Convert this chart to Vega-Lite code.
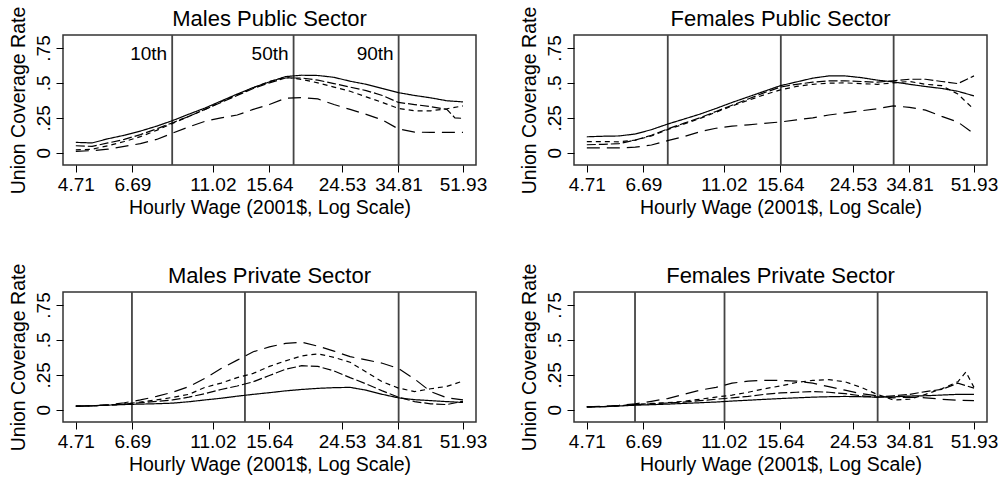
{
  "$schema": "https://vega.github.io/schema/vega-lite/v6.json",
  "padding": {"left": 7, "top": 5, "right": 0, "bottom": 0},
  "background": "white",
  "columns": 2,
  "spacing": {"column": 30, "row": 44},
  "config": {
    "font": "Liberation Sans",
    "view": {"stroke": "#333333", "strokeWidth": 1.5},
    "title": {"font": "Liberation Sans", "fontSize": 22, "fontWeight": "normal", "color": "black", "anchor": "middle", "frame": "group", "baseline": "alphabetic", "offset": -25},
    "axis": {"domain": false, "grid": false, "tickColor": "black", "tickSize": 7, "tickWidth": 1, "labelFont": "Liberation Sans", "labelFontSize": 19, "labelColor": "black", "titleFont": "Liberation Sans", "titleFontSize": 19.5, "titleFontWeight": "normal", "titleColor": "black", "labelOverlap": false, "labelFlush": false}
  },
  "datasets": {
    "curves": [
      {"panel":"MPu","series":"D","wage":4.71,"rate":0.074},{"panel":"MPu","series":"D","wage":5.21,"rate":0.07},{"panel":"MPu","series":"D","wage":5.75,"rate":0.1},{"panel":"MPu","series":"D","wage":6.36,"rate":0.125},{"panel":"MPu","series":"D","wage":7.03,"rate":0.155},{"panel":"MPu","series":"D","wage":7.77,"rate":0.19},{"panel":"MPu","series":"D","wage":8.58,"rate":0.23},{"panel":"MPu","series":"D","wage":9.49,"rate":0.276},{"panel":"MPu","series":"D","wage":10.49,"rate":0.32},{"panel":"MPu","series":"D","wage":11.59,"rate":0.37},{"panel":"MPu","series":"D","wage":12.81,"rate":0.42},{"panel":"MPu","series":"D","wage":14.15,"rate":0.467},{"panel":"MPu","series":"D","wage":15.64,"rate":0.507},{"panel":"MPu","series":"D","wage":17.29,"rate":0.545},{"panel":"MPu","series":"D","wage":19.11,"rate":0.555},{"panel":"MPu","series":"D","wage":21.12,"rate":0.553},{"panel":"MPu","series":"D","wage":23.34,"rate":0.54},{"panel":"MPu","series":"D","wage":25.79,"rate":0.512},{"panel":"MPu","series":"D","wage":28.5,"rate":0.49},{"panel":"MPu","series":"D","wage":31.5,"rate":0.46},{"panel":"MPu","series":"D","wage":34.81,"rate":0.43},{"panel":"MPu","series":"D","wage":38.47,"rate":0.41},{"panel":"MPu","series":"D","wage":42.52,"rate":0.393},{"panel":"MPu","series":"D","wage":46.99,"rate":0.372},{"panel":"MPu","series":"D","wage":51.93,"rate":0.364},
      {"panel":"MPu","series":"C","wage":4.71,"rate":0.05},{"panel":"MPu","series":"C","wage":5.21,"rate":0.045},{"panel":"MPu","series":"C","wage":5.75,"rate":0.07},{"panel":"MPu","series":"C","wage":6.36,"rate":0.095},{"panel":"MPu","series":"C","wage":7.03,"rate":0.13},{"panel":"MPu","series":"C","wage":7.77,"rate":0.17},{"panel":"MPu","series":"C","wage":8.58,"rate":0.215},{"panel":"MPu","series":"C","wage":9.49,"rate":0.26},{"panel":"MPu","series":"C","wage":10.49,"rate":0.31},{"panel":"MPu","series":"C","wage":11.59,"rate":0.36},{"panel":"MPu","series":"C","wage":12.81,"rate":0.41},{"panel":"MPu","series":"C","wage":14.15,"rate":0.46},{"panel":"MPu","series":"C","wage":15.64,"rate":0.5},{"panel":"MPu","series":"C","wage":17.29,"rate":0.535},{"panel":"MPu","series":"C","wage":19.11,"rate":0.535},{"panel":"MPu","series":"C","wage":21.12,"rate":0.52},{"panel":"MPu","series":"C","wage":23.34,"rate":0.495},{"panel":"MPu","series":"C","wage":25.79,"rate":0.47},{"panel":"MPu","series":"C","wage":28.5,"rate":0.445},{"panel":"MPu","series":"C","wage":31.5,"rate":0.41},{"panel":"MPu","series":"C","wage":34.81,"rate":0.36},{"panel":"MPu","series":"C","wage":38.47,"rate":0.345},{"panel":"MPu","series":"C","wage":42.52,"rate":0.33},{"panel":"MPu","series":"C","wage":46.99,"rate":0.31},{"panel":"MPu","series":"C","wage":49.4,"rate":0.25},{"panel":"MPu","series":"C","wage":51.93,"rate":0.246},
      {"panel":"MPu","series":"B","wage":4.71,"rate":0.02},{"panel":"MPu","series":"B","wage":5.21,"rate":0.025},{"panel":"MPu","series":"B","wage":5.75,"rate":0.05},{"panel":"MPu","series":"B","wage":6.36,"rate":0.08},{"panel":"MPu","series":"B","wage":7.03,"rate":0.115},{"panel":"MPu","series":"B","wage":7.77,"rate":0.16},{"panel":"MPu","series":"B","wage":8.58,"rate":0.21},{"panel":"MPu","series":"B","wage":9.49,"rate":0.26},{"panel":"MPu","series":"B","wage":10.49,"rate":0.31},{"panel":"MPu","series":"B","wage":11.59,"rate":0.365},{"panel":"MPu","series":"B","wage":12.81,"rate":0.415},{"panel":"MPu","series":"B","wage":14.15,"rate":0.465},{"panel":"MPu","series":"B","wage":15.64,"rate":0.51},{"panel":"MPu","series":"B","wage":17.29,"rate":0.54},{"panel":"MPu","series":"B","wage":19.11,"rate":0.525},{"panel":"MPu","series":"B","wage":21.12,"rate":0.5},{"panel":"MPu","series":"B","wage":23.34,"rate":0.47},{"panel":"MPu","series":"B","wage":25.79,"rate":0.44},{"panel":"MPu","series":"B","wage":28.5,"rate":0.4},{"panel":"MPu","series":"B","wage":31.5,"rate":0.36},{"panel":"MPu","series":"B","wage":34.81,"rate":0.317},{"panel":"MPu","series":"B","wage":38.47,"rate":0.3},{"panel":"MPu","series":"B","wage":42.52,"rate":0.3},{"panel":"MPu","series":"B","wage":46.99,"rate":0.315},{"panel":"MPu","series":"B","wage":51.93,"rate":0.335},
      {"panel":"MPu","series":"A","wage":4.71,"rate":0.01},{"panel":"MPu","series":"A","wage":5.21,"rate":0.015},{"panel":"MPu","series":"A","wage":5.75,"rate":0.025},{"panel":"MPu","series":"A","wage":6.36,"rate":0.045},{"panel":"MPu","series":"A","wage":7.03,"rate":0.065},{"panel":"MPu","series":"A","wage":7.77,"rate":0.095},{"panel":"MPu","series":"A","wage":8.58,"rate":0.14},{"panel":"MPu","series":"A","wage":9.49,"rate":0.185},{"panel":"MPu","series":"A","wage":10.49,"rate":0.225},{"panel":"MPu","series":"A","wage":11.59,"rate":0.25},{"panel":"MPu","series":"A","wage":12.81,"rate":0.27},{"panel":"MPu","series":"A","wage":14.15,"rate":0.31},{"panel":"MPu","series":"A","wage":15.64,"rate":0.345},{"panel":"MPu","series":"A","wage":17.29,"rate":0.39},{"panel":"MPu","series":"A","wage":19.11,"rate":0.395},{"panel":"MPu","series":"A","wage":21.12,"rate":0.385},{"panel":"MPu","series":"A","wage":23.34,"rate":0.345},{"panel":"MPu","series":"A","wage":25.79,"rate":0.31},{"panel":"MPu","series":"A","wage":28.5,"rate":0.275},{"panel":"MPu","series":"A","wage":31.5,"rate":0.235},{"panel":"MPu","series":"A","wage":34.81,"rate":0.17},{"panel":"MPu","series":"A","wage":38.47,"rate":0.148},{"panel":"MPu","series":"A","wage":42.52,"rate":0.145},{"panel":"MPu","series":"A","wage":46.99,"rate":0.146},{"panel":"MPu","series":"A","wage":51.93,"rate":0.146},

      {"panel":"FPu","series":"D","wage":4.71,"rate":0.114},{"panel":"FPu","series":"D","wage":5.21,"rate":0.118},{"panel":"FPu","series":"D","wage":5.75,"rate":0.12},{"panel":"FPu","series":"D","wage":6.36,"rate":0.134},{"panel":"FPu","series":"D","wage":7.03,"rate":0.165},{"panel":"FPu","series":"D","wage":7.77,"rate":0.205},{"panel":"FPu","series":"D","wage":8.58,"rate":0.24},{"panel":"FPu","series":"D","wage":9.49,"rate":0.276},{"panel":"FPu","series":"D","wage":10.49,"rate":0.317},{"panel":"FPu","series":"D","wage":11.59,"rate":0.36},{"panel":"FPu","series":"D","wage":12.81,"rate":0.4},{"panel":"FPu","series":"D","wage":14.15,"rate":0.44},{"panel":"FPu","series":"D","wage":15.64,"rate":0.48},{"panel":"FPu","series":"D","wage":17.29,"rate":0.507},{"panel":"FPu","series":"D","wage":19.11,"rate":0.534},{"panel":"FPu","series":"D","wage":21.12,"rate":0.55},{"panel":"FPu","series":"D","wage":23.34,"rate":0.55},{"panel":"FPu","series":"D","wage":25.79,"rate":0.538},{"panel":"FPu","series":"D","wage":28.5,"rate":0.52},{"panel":"FPu","series":"D","wage":31.5,"rate":0.507},{"panel":"FPu","series":"D","wage":34.81,"rate":0.49},{"panel":"FPu","series":"D","wage":38.47,"rate":0.474},{"panel":"FPu","series":"D","wage":42.52,"rate":0.46},{"panel":"FPu","series":"D","wage":46.99,"rate":0.44},{"panel":"FPu","series":"D","wage":51.93,"rate":0.407},
      {"panel":"FPu","series":"C","wage":4.71,"rate":0.057},{"panel":"FPu","series":"C","wage":5.21,"rate":0.06},{"panel":"FPu","series":"C","wage":5.75,"rate":0.065},{"panel":"FPu","series":"C","wage":6.36,"rate":0.09},{"panel":"FPu","series":"C","wage":7.03,"rate":0.125},{"panel":"FPu","series":"C","wage":7.77,"rate":0.17},{"panel":"FPu","series":"C","wage":8.58,"rate":0.21},{"panel":"FPu","series":"C","wage":9.49,"rate":0.25},{"panel":"FPu","series":"C","wage":10.49,"rate":0.295},{"panel":"FPu","series":"C","wage":11.59,"rate":0.34},{"panel":"FPu","series":"C","wage":12.81,"rate":0.385},{"panel":"FPu","series":"C","wage":14.15,"rate":0.43},{"panel":"FPu","series":"C","wage":15.64,"rate":0.47},{"panel":"FPu","series":"C","wage":17.29,"rate":0.49},{"panel":"FPu","series":"C","wage":19.11,"rate":0.505},{"panel":"FPu","series":"C","wage":21.12,"rate":0.514},{"panel":"FPu","series":"C","wage":23.34,"rate":0.515},{"panel":"FPu","series":"C","wage":25.79,"rate":0.51},{"panel":"FPu","series":"C","wage":28.5,"rate":0.505},{"panel":"FPu","series":"C","wage":31.5,"rate":0.515},{"panel":"FPu","series":"C","wage":34.81,"rate":0.526},{"panel":"FPu","series":"C","wage":38.47,"rate":0.526},{"panel":"FPu","series":"C","wage":42.52,"rate":0.51},{"panel":"FPu","series":"C","wage":46.99,"rate":0.495},{"panel":"FPu","series":"C","wage":51.93,"rate":0.55},
      {"panel":"FPu","series":"B","wage":4.71,"rate":0.08},{"panel":"FPu","series":"B","wage":5.21,"rate":0.08},{"panel":"FPu","series":"B","wage":5.75,"rate":0.078},{"panel":"FPu","series":"B","wage":6.36,"rate":0.09},{"panel":"FPu","series":"B","wage":7.03,"rate":0.12},{"panel":"FPu","series":"B","wage":7.77,"rate":0.165},{"panel":"FPu","series":"B","wage":8.58,"rate":0.205},{"panel":"FPu","series":"B","wage":9.49,"rate":0.245},{"panel":"FPu","series":"B","wage":10.49,"rate":0.29},{"panel":"FPu","series":"B","wage":11.59,"rate":0.335},{"panel":"FPu","series":"B","wage":12.81,"rate":0.375},{"panel":"FPu","series":"B","wage":14.15,"rate":0.415},{"panel":"FPu","series":"B","wage":15.64,"rate":0.45},{"panel":"FPu","series":"B","wage":17.29,"rate":0.475},{"panel":"FPu","series":"B","wage":19.11,"rate":0.49},{"panel":"FPu","series":"B","wage":21.12,"rate":0.498},{"panel":"FPu","series":"B","wage":23.34,"rate":0.5},{"panel":"FPu","series":"B","wage":25.79,"rate":0.495},{"panel":"FPu","series":"B","wage":28.5,"rate":0.49},{"panel":"FPu","series":"B","wage":31.5,"rate":0.5},{"panel":"FPu","series":"B","wage":34.81,"rate":0.51},{"panel":"FPu","series":"B","wage":38.47,"rate":0.49},{"panel":"FPu","series":"B","wage":42.52,"rate":0.48},{"panel":"FPu","series":"B","wage":46.99,"rate":0.42},{"panel":"FPu","series":"B","wage":51.93,"rate":0.31},
      {"panel":"FPu","series":"A","wage":4.71,"rate":0.035},{"panel":"FPu","series":"A","wage":5.21,"rate":0.034},{"panel":"FPu","series":"A","wage":5.75,"rate":0.034},{"panel":"FPu","series":"A","wage":6.36,"rate":0.04},{"panel":"FPu","series":"A","wage":7.03,"rate":0.055},{"panel":"FPu","series":"A","wage":7.77,"rate":0.086},{"panel":"FPu","series":"A","wage":8.58,"rate":0.115},{"panel":"FPu","series":"A","wage":9.49,"rate":0.15},{"panel":"FPu","series":"A","wage":10.49,"rate":0.175},{"panel":"FPu","series":"A","wage":11.59,"rate":0.19},{"panel":"FPu","series":"A","wage":12.81,"rate":0.2},{"panel":"FPu","series":"A","wage":14.15,"rate":0.21},{"panel":"FPu","series":"A","wage":15.64,"rate":0.22},{"panel":"FPu","series":"A","wage":17.29,"rate":0.235},{"panel":"FPu","series":"A","wage":19.11,"rate":0.25},{"panel":"FPu","series":"A","wage":21.12,"rate":0.27},{"panel":"FPu","series":"A","wage":23.34,"rate":0.285},{"panel":"FPu","series":"A","wage":25.79,"rate":0.3},{"panel":"FPu","series":"A","wage":28.5,"rate":0.315},{"panel":"FPu","series":"A","wage":31.5,"rate":0.335},{"panel":"FPu","series":"A","wage":34.81,"rate":0.325},{"panel":"FPu","series":"A","wage":38.47,"rate":0.305},{"panel":"FPu","series":"A","wage":42.52,"rate":0.26},{"panel":"FPu","series":"A","wage":46.99,"rate":0.22},{"panel":"FPu","series":"A","wage":51.93,"rate":0.135},

      {"panel":"MPr","series":"D","wage":4.71,"rate":0.025},{"panel":"MPr","series":"D","wage":5.21,"rate":0.028},{"panel":"MPr","series":"D","wage":5.75,"rate":0.033},{"panel":"MPr","series":"D","wage":6.36,"rate":0.037},{"panel":"MPr","series":"D","wage":7.03,"rate":0.04},{"panel":"MPr","series":"D","wage":7.77,"rate":0.043},{"panel":"MPr","series":"D","wage":8.58,"rate":0.047},{"panel":"MPr","series":"D","wage":9.49,"rate":0.057},{"panel":"MPr","series":"D","wage":10.49,"rate":0.07},{"panel":"MPr","series":"D","wage":11.59,"rate":0.082},{"panel":"MPr","series":"D","wage":12.81,"rate":0.097},{"panel":"MPr","series":"D","wage":14.15,"rate":0.11},{"panel":"MPr","series":"D","wage":15.64,"rate":0.122},{"panel":"MPr","series":"D","wage":17.29,"rate":0.135},{"panel":"MPr","series":"D","wage":19.11,"rate":0.145},{"panel":"MPr","series":"D","wage":21.12,"rate":0.153},{"panel":"MPr","series":"D","wage":23.34,"rate":0.158},{"panel":"MPr","series":"D","wage":25.79,"rate":0.16},{"panel":"MPr","series":"D","wage":28.5,"rate":0.14},{"panel":"MPr","series":"D","wage":31.5,"rate":0.11},{"panel":"MPr","series":"D","wage":34.81,"rate":0.085},{"panel":"MPr","series":"D","wage":38.47,"rate":0.072},{"panel":"MPr","series":"D","wage":42.52,"rate":0.065},{"panel":"MPr","series":"D","wage":46.99,"rate":0.058},{"panel":"MPr","series":"D","wage":51.93,"rate":0.052},
      {"panel":"MPr","series":"C","wage":4.71,"rate":0.025},{"panel":"MPr","series":"C","wage":5.21,"rate":0.028},{"panel":"MPr","series":"C","wage":5.75,"rate":0.033},{"panel":"MPr","series":"C","wage":6.36,"rate":0.04},{"panel":"MPr","series":"C","wage":7.03,"rate":0.05},{"panel":"MPr","series":"C","wage":7.77,"rate":0.06},{"panel":"MPr","series":"C","wage":8.58,"rate":0.07},{"panel":"MPr","series":"C","wage":9.49,"rate":0.09},{"panel":"MPr","series":"C","wage":10.49,"rate":0.115},{"panel":"MPr","series":"C","wage":11.59,"rate":0.145},{"panel":"MPr","series":"C","wage":12.81,"rate":0.17},{"panel":"MPr","series":"C","wage":14.15,"rate":0.2},{"panel":"MPr","series":"C","wage":15.64,"rate":0.245},{"panel":"MPr","series":"C","wage":17.29,"rate":0.29},{"panel":"MPr","series":"C","wage":19.11,"rate":0.315},{"panel":"MPr","series":"C","wage":21.12,"rate":0.31},{"panel":"MPr","series":"C","wage":23.34,"rate":0.278},{"panel":"MPr","series":"C","wage":25.79,"rate":0.23},{"panel":"MPr","series":"C","wage":28.5,"rate":0.185},{"panel":"MPr","series":"C","wage":31.5,"rate":0.135},{"panel":"MPr","series":"C","wage":34.81,"rate":0.09},{"panel":"MPr","series":"C","wage":38.47,"rate":0.058},{"panel":"MPr","series":"C","wage":42.52,"rate":0.042},{"panel":"MPr","series":"C","wage":46.99,"rate":0.037},{"panel":"MPr","series":"C","wage":51.93,"rate":0.06},
      {"panel":"MPr","series":"B","wage":4.71,"rate":0.025},{"panel":"MPr","series":"B","wage":5.21,"rate":0.028},{"panel":"MPr","series":"B","wage":5.75,"rate":0.033},{"panel":"MPr","series":"B","wage":6.36,"rate":0.04},{"panel":"MPr","series":"B","wage":7.03,"rate":0.055},{"panel":"MPr","series":"B","wage":7.77,"rate":0.07},{"panel":"MPr","series":"B","wage":8.58,"rate":0.088},{"panel":"MPr","series":"B","wage":9.49,"rate":0.11},{"panel":"MPr","series":"B","wage":10.49,"rate":0.16},{"panel":"MPr","series":"B","wage":11.59,"rate":0.19},{"panel":"MPr","series":"B","wage":12.81,"rate":0.23},{"panel":"MPr","series":"B","wage":14.15,"rate":0.26},{"panel":"MPr","series":"B","wage":15.64,"rate":0.31},{"panel":"MPr","series":"B","wage":17.29,"rate":0.35},{"panel":"MPr","series":"B","wage":19.11,"rate":0.385},{"panel":"MPr","series":"B","wage":21.12,"rate":0.4},{"panel":"MPr","series":"B","wage":23.34,"rate":0.375},{"panel":"MPr","series":"B","wage":25.79,"rate":0.34},{"panel":"MPr","series":"B","wage":28.5,"rate":0.27},{"panel":"MPr","series":"B","wage":31.5,"rate":0.2},{"panel":"MPr","series":"B","wage":34.81,"rate":0.155},{"panel":"MPr","series":"B","wage":38.47,"rate":0.13},{"panel":"MPr","series":"B","wage":42.52,"rate":0.15},{"panel":"MPr","series":"B","wage":46.99,"rate":0.167},{"panel":"MPr","series":"B","wage":51.93,"rate":0.205},
      {"panel":"MPr","series":"A","wage":4.71,"rate":0.025},{"panel":"MPr","series":"A","wage":5.21,"rate":0.028},{"panel":"MPr","series":"A","wage":5.75,"rate":0.035},{"panel":"MPr","series":"A","wage":6.36,"rate":0.05},{"panel":"MPr","series":"A","wage":7.03,"rate":0.07},{"panel":"MPr","series":"A","wage":7.77,"rate":0.095},{"panel":"MPr","series":"A","wage":8.58,"rate":0.125},{"panel":"MPr","series":"A","wage":9.49,"rate":0.165},{"panel":"MPr","series":"A","wage":10.49,"rate":0.225},{"panel":"MPr","series":"A","wage":11.59,"rate":0.295},{"panel":"MPr","series":"A","wage":12.81,"rate":0.355},{"panel":"MPr","series":"A","wage":14.15,"rate":0.415},{"panel":"MPr","series":"A","wage":15.64,"rate":0.45},{"panel":"MPr","series":"A","wage":17.29,"rate":0.475},{"panel":"MPr","series":"A","wage":19.11,"rate":0.483},{"panel":"MPr","series":"A","wage":21.12,"rate":0.455},{"panel":"MPr","series":"A","wage":23.34,"rate":0.42},{"panel":"MPr","series":"A","wage":25.79,"rate":0.38},{"panel":"MPr","series":"A","wage":28.5,"rate":0.357},{"panel":"MPr","series":"A","wage":31.5,"rate":0.333},{"panel":"MPr","series":"A","wage":34.81,"rate":0.295},{"panel":"MPr","series":"A","wage":38.47,"rate":0.22},{"panel":"MPr","series":"A","wage":42.52,"rate":0.13},{"panel":"MPr","series":"A","wage":46.99,"rate":0.085},{"panel":"MPr","series":"A","wage":51.93,"rate":0.07},

      {"panel":"FPr","series":"D","wage":4.71,"rate":0.02},{"panel":"FPr","series":"D","wage":5.21,"rate":0.022},{"panel":"FPr","series":"D","wage":5.75,"rate":0.027},{"panel":"FPr","series":"D","wage":6.36,"rate":0.032},{"panel":"FPr","series":"D","wage":7.03,"rate":0.036},{"panel":"FPr","series":"D","wage":7.77,"rate":0.04},{"panel":"FPr","series":"D","wage":8.58,"rate":0.045},{"panel":"FPr","series":"D","wage":9.49,"rate":0.05},{"panel":"FPr","series":"D","wage":10.49,"rate":0.055},{"panel":"FPr","series":"D","wage":11.59,"rate":0.062},{"panel":"FPr","series":"D","wage":12.81,"rate":0.068},{"panel":"FPr","series":"D","wage":14.15,"rate":0.074},{"panel":"FPr","series":"D","wage":15.64,"rate":0.08},{"panel":"FPr","series":"D","wage":17.29,"rate":0.085},{"panel":"FPr","series":"D","wage":19.11,"rate":0.09},{"panel":"FPr","series":"D","wage":21.12,"rate":0.093},{"panel":"FPr","series":"D","wage":23.34,"rate":0.095},{"panel":"FPr","series":"D","wage":25.79,"rate":0.093},{"panel":"FPr","series":"D","wage":28.5,"rate":0.09},{"panel":"FPr","series":"D","wage":31.5,"rate":0.092},{"panel":"FPr","series":"D","wage":34.81,"rate":0.098},{"panel":"FPr","series":"D","wage":38.47,"rate":0.1},{"panel":"FPr","series":"D","wage":42.52,"rate":0.105},{"panel":"FPr","series":"D","wage":46.99,"rate":0.11},{"panel":"FPr","series":"D","wage":51.93,"rate":0.11},
      {"panel":"FPr","series":"C","wage":4.71,"rate":0.02},{"panel":"FPr","series":"C","wage":5.21,"rate":0.022},{"panel":"FPr","series":"C","wage":5.75,"rate":0.028},{"panel":"FPr","series":"C","wage":6.36,"rate":0.036},{"panel":"FPr","series":"C","wage":7.03,"rate":0.042},{"panel":"FPr","series":"C","wage":7.77,"rate":0.048},{"panel":"FPr","series":"C","wage":8.58,"rate":0.055},{"panel":"FPr","series":"C","wage":9.49,"rate":0.065},{"panel":"FPr","series":"C","wage":10.49,"rate":0.075},{"panel":"FPr","series":"C","wage":11.59,"rate":0.085},{"panel":"FPr","series":"C","wage":12.81,"rate":0.095},{"panel":"FPr","series":"C","wage":14.15,"rate":0.11},{"panel":"FPr","series":"C","wage":15.64,"rate":0.12},{"panel":"FPr","series":"C","wage":17.29,"rate":0.125},{"panel":"FPr","series":"C","wage":19.11,"rate":0.13},{"panel":"FPr","series":"C","wage":21.12,"rate":0.125},{"panel":"FPr","series":"C","wage":23.34,"rate":0.115},{"panel":"FPr","series":"C","wage":25.79,"rate":0.1},{"panel":"FPr","series":"C","wage":28.5,"rate":0.09},{"panel":"FPr","series":"C","wage":31.5,"rate":0.1},{"panel":"FPr","series":"C","wage":34.81,"rate":0.11},{"panel":"FPr","series":"C","wage":38.47,"rate":0.13},{"panel":"FPr","series":"C","wage":42.52,"rate":0.145},{"panel":"FPr","series":"C","wage":46.99,"rate":0.19},{"panel":"FPr","series":"C","wage":51.93,"rate":0.155},
      {"panel":"FPr","series":"B","wage":4.71,"rate":0.02},{"panel":"FPr","series":"B","wage":5.21,"rate":0.022},{"panel":"FPr","series":"B","wage":5.75,"rate":0.028},{"panel":"FPr","series":"B","wage":6.36,"rate":0.038},{"panel":"FPr","series":"B","wage":7.03,"rate":0.045},{"panel":"FPr","series":"B","wage":7.77,"rate":0.05},{"panel":"FPr","series":"B","wage":8.58,"rate":0.06},{"panel":"FPr","series":"B","wage":9.49,"rate":0.075},{"panel":"FPr","series":"B","wage":10.49,"rate":0.09},{"panel":"FPr","series":"B","wage":11.59,"rate":0.105},{"panel":"FPr","series":"B","wage":12.81,"rate":0.125},{"panel":"FPr","series":"B","wage":14.15,"rate":0.15},{"panel":"FPr","series":"B","wage":15.64,"rate":0.17},{"panel":"FPr","series":"B","wage":17.29,"rate":0.195},{"panel":"FPr","series":"B","wage":19.11,"rate":0.21},{"panel":"FPr","series":"B","wage":21.12,"rate":0.215},{"panel":"FPr","series":"B","wage":23.34,"rate":0.2},{"panel":"FPr","series":"B","wage":25.79,"rate":0.16},{"panel":"FPr","series":"B","wage":28.5,"rate":0.11},{"panel":"FPr","series":"B","wage":31.5,"rate":0.07},{"panel":"FPr","series":"B","wage":34.81,"rate":0.075},{"panel":"FPr","series":"B","wage":38.47,"rate":0.11},{"panel":"FPr","series":"B","wage":42.52,"rate":0.15},{"panel":"FPr","series":"B","wage":46.99,"rate":0.2},{"panel":"FPr","series":"B","wage":49.4,"rate":0.27},{"panel":"FPr","series":"B","wage":51.93,"rate":0.16},
      {"panel":"FPr","series":"A","wage":4.71,"rate":0.02},{"panel":"FPr","series":"A","wage":5.21,"rate":0.025},{"panel":"FPr","series":"A","wage":5.75,"rate":0.032},{"panel":"FPr","series":"A","wage":6.36,"rate":0.042},{"panel":"FPr","series":"A","wage":7.03,"rate":0.06},{"panel":"FPr","series":"A","wage":7.77,"rate":0.08},{"panel":"FPr","series":"A","wage":8.58,"rate":0.11},{"panel":"FPr","series":"A","wage":9.49,"rate":0.14},{"panel":"FPr","series":"A","wage":10.49,"rate":0.16},{"panel":"FPr","series":"A","wage":11.59,"rate":0.19},{"panel":"FPr","series":"A","wage":12.81,"rate":0.205},{"panel":"FPr","series":"A","wage":14.15,"rate":0.21},{"panel":"FPr","series":"A","wage":15.64,"rate":0.21},{"panel":"FPr","series":"A","wage":17.29,"rate":0.205},{"panel":"FPr","series":"A","wage":19.11,"rate":0.19},{"panel":"FPr","series":"A","wage":21.12,"rate":0.165},{"panel":"FPr","series":"A","wage":23.34,"rate":0.14},{"panel":"FPr","series":"A","wage":25.79,"rate":0.115},{"panel":"FPr","series":"A","wage":28.5,"rate":0.1},{"panel":"FPr","series":"A","wage":31.5,"rate":0.085},{"panel":"FPr","series":"A","wage":34.81,"rate":0.09},{"panel":"FPr","series":"A","wage":38.47,"rate":0.085},{"panel":"FPr","series":"A","wage":42.52,"rate":0.075},{"panel":"FPr","series":"A","wage":46.99,"rate":0.068},{"panel":"FPr","series":"A","wage":51.93,"rate":0.065}
    ],
    "pctl": [
      {"panel":"MPu","pct":"10th","wage":8.56},{"panel":"MPu","pct":"50th","wage":18.17},{"panel":"MPu","pct":"90th","wage":34.85},
      {"panel":"FPu","pct":"10th","wage":7.78},{"panel":"FPu","pct":"50th","wage":15.68},{"panel":"FPu","pct":"90th","wage":31.56},
      {"panel":"MPr","pct":"10th","wage":6.67},{"panel":"MPr","pct":"50th","wage":13.44},{"panel":"MPr","pct":"90th","wage":34.85},
      {"panel":"FPr","pct":"10th","wage":6.35},{"panel":"FPr","pct":"50th","wage":11.06},{"panel":"FPr","pct":"90th","wage":28.58}
    ]
  },
  "concat": [
    {
      "title": "Males Public Sector",
      "width": 413, "height": 130,
      "layer": [
        {"data": {"name": "pctl"}, "transform": [{"filter": "datum.panel == 'MPu'"}], "mark": {"type": "rule", "color": "#444444", "strokeWidth": 1.8}, "encoding": {"x": {"field": "wage", "type": "quantitative", "scale": {"type": "log", "domain": [4.35, 56.3], "nice": false, "zero": false}, "axis": {"values": [4.71, 6.69, 11.02, 15.64, 24.53, 34.81, 51.93], "format": ".2f", "title": "Hourly Wage (2001$, Log Scale)", "titlePadding": 4, "labelPadding": 3}}}},
        {"data": {"name": "pctl"}, "transform": [{"filter": "datum.panel == 'MPu'"}], "mark": {"type": "text", "align": "right", "baseline": "middle", "dx": -5, "fontSize": 19, "color": "black"}, "encoding": {"x": {"field": "wage", "type": "quantitative"}, "y": {"datum": 0.71}, "text": {"field": "pct"}}},
        {"data": {"name": "curves"}, "transform": [{"filter": "datum.panel == 'MPu'"}], "mark": {"type": "line", "color": "black", "strokeWidth": 1.2}, "encoding": {"x": {"field": "wage", "type": "quantitative"}, "y": {"field": "rate", "type": "quantitative", "scale": {"domain": [-0.088, 0.843], "nice": false, "zero": false}, "axis": {"values": [0, 0.25, 0.5, 0.75], "labelExpr": "replace(format(datum.value, '.2~f'), '0.', '.')", "title": "Union Coverage Rate", "labelAngle": -90, "labelAlign": "center", "labelBaseline": "alphabetic", "labelPadding": 7, "titlePadding": 6}}, "strokeDash": {"field": "series", "type": "nominal", "scale": {"domain": ["A", "B", "C", "D"], "range": [[13, 7], [5, 4], [9, 3], [1, 0]]}, "legend": null}, "order": {"field": "wage", "type": "quantitative"}}}
      ]
    },
    {
      "title": "Females Public Sector",
      "width": 413, "height": 130,
      "layer": [
        {"data": {"name": "pctl"}, "transform": [{"filter": "datum.panel == 'FPu'"}], "mark": {"type": "rule", "color": "#444444", "strokeWidth": 1.8}, "encoding": {"x": {"field": "wage", "type": "quantitative", "scale": {"type": "log", "domain": [4.35, 56.3], "nice": false, "zero": false}, "axis": {"values": [4.71, 6.69, 11.02, 15.64, 24.53, 34.81, 51.93], "format": ".2f", "title": "Hourly Wage (2001$, Log Scale)", "titlePadding": 4, "labelPadding": 3}}}},
        {"data": {"name": "curves"}, "transform": [{"filter": "datum.panel == 'FPu'"}], "mark": {"type": "line", "color": "black", "strokeWidth": 1.2}, "encoding": {"x": {"field": "wage", "type": "quantitative"}, "y": {"field": "rate", "type": "quantitative", "scale": {"domain": [-0.088, 0.843], "nice": false, "zero": false}, "axis": {"values": [0, 0.25, 0.5, 0.75], "labelExpr": "replace(format(datum.value, '.2~f'), '0.', '.')", "title": "Union Coverage Rate", "labelAngle": -90, "labelAlign": "center", "labelBaseline": "alphabetic", "labelPadding": 7, "titlePadding": 6}}, "strokeDash": {"field": "series", "type": "nominal", "scale": {"domain": ["A", "B", "C", "D"], "range": [[13, 7], [5, 4], [9, 3], [1, 0]]}, "legend": null}, "order": {"field": "wage", "type": "quantitative"}}}
      ]
    },
    {
      "title": "Males Private Sector",
      "width": 413, "height": 130,
      "layer": [
        {"data": {"name": "pctl"}, "transform": [{"filter": "datum.panel == 'MPr'"}], "mark": {"type": "rule", "color": "#444444", "strokeWidth": 1.8}, "encoding": {"x": {"field": "wage", "type": "quantitative", "scale": {"type": "log", "domain": [4.35, 56.3], "nice": false, "zero": false}, "axis": {"values": [4.71, 6.69, 11.02, 15.64, 24.53, 34.81, 51.93], "format": ".2f", "title": "Hourly Wage (2001$, Log Scale)", "titlePadding": 4, "labelPadding": 3}}}},
        {"data": {"name": "curves"}, "transform": [{"filter": "datum.panel == 'MPr'"}], "mark": {"type": "line", "color": "black", "strokeWidth": 1.2}, "encoding": {"x": {"field": "wage", "type": "quantitative"}, "y": {"field": "rate", "type": "quantitative", "scale": {"domain": [-0.088, 0.843], "nice": false, "zero": false}, "axis": {"values": [0, 0.25, 0.5, 0.75], "labelExpr": "replace(format(datum.value, '.2~f'), '0.', '.')", "title": "Union Coverage Rate", "labelAngle": -90, "labelAlign": "center", "labelBaseline": "alphabetic", "labelPadding": 7, "titlePadding": 6}}, "strokeDash": {"field": "series", "type": "nominal", "scale": {"domain": ["A", "B", "C", "D"], "range": [[13, 7], [5, 4], [9, 3], [1, 0]]}, "legend": null}, "order": {"field": "wage", "type": "quantitative"}}}
      ]
    },
    {
      "title": "Females Private Sector",
      "width": 413, "height": 130,
      "layer": [
        {"data": {"name": "pctl"}, "transform": [{"filter": "datum.panel == 'FPr'"}], "mark": {"type": "rule", "color": "#444444", "strokeWidth": 1.8}, "encoding": {"x": {"field": "wage", "type": "quantitative", "scale": {"type": "log", "domain": [4.35, 56.3], "nice": false, "zero": false}, "axis": {"values": [4.71, 6.69, 11.02, 15.64, 24.53, 34.81, 51.93], "format": ".2f", "title": "Hourly Wage (2001$, Log Scale)", "titlePadding": 4, "labelPadding": 3}}}},
        {"data": {"name": "curves"}, "transform": [{"filter": "datum.panel == 'FPr'"}], "mark": {"type": "line", "color": "black", "strokeWidth": 1.2}, "encoding": {"x": {"field": "wage", "type": "quantitative"}, "y": {"field": "rate", "type": "quantitative", "scale": {"domain": [-0.088, 0.843], "nice": false, "zero": false}, "axis": {"values": [0, 0.25, 0.5, 0.75], "labelExpr": "replace(format(datum.value, '.2~f'), '0.', '.')", "title": "Union Coverage Rate", "labelAngle": -90, "labelAlign": "center", "labelBaseline": "alphabetic", "labelPadding": 7, "titlePadding": 6}}, "strokeDash": {"field": "series", "type": "nominal", "scale": {"domain": ["A", "B", "C", "D"], "range": [[13, 7], [5, 4], [9, 3], [1, 0]]}, "legend": null}, "order": {"field": "wage", "type": "quantitative"}}}
      ]
    }
  ]
}
